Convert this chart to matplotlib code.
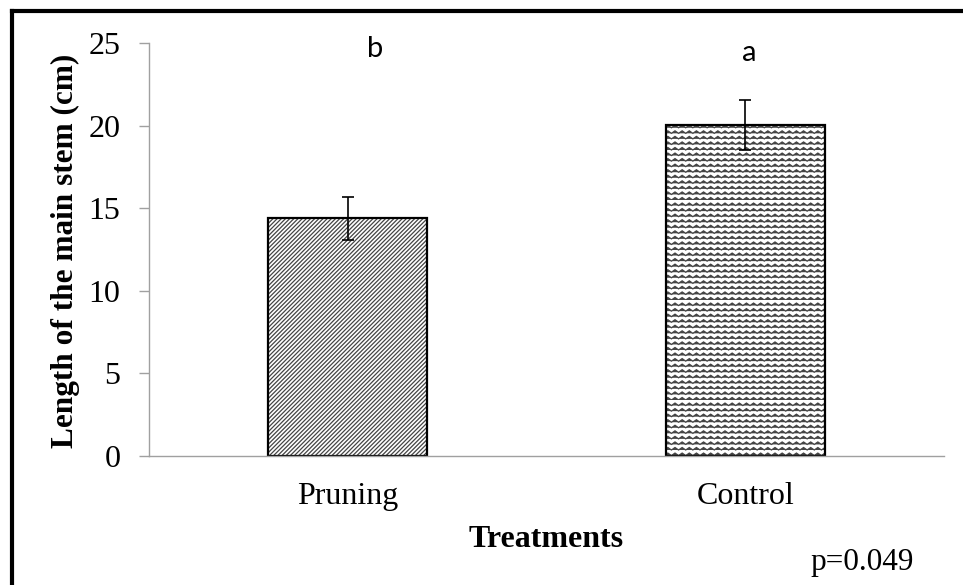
import matplotlib
matplotlib.use("Agg")
import numpy as np
import matplotlib.pyplot as plt
import matplotlib.hatch as mhatch
from matplotlib.path import Path
from matplotlib.lines import Line2D

treatments = ["Pruning", "Control"]
stem_length = [14.4, 20.05]
stem_err = [1.3, 1.5]
letters = ["b", "a"]
p_text = "p=0.049"


class ZigzagHatch(mhatch.HatchPatternBase):
    # wavy rows like the Excel "wave" fill, used with '~'
    def __init__(self, hatch, density):
        self.num_rows = int(hatch.count("~") * density)
        self.teeth = 14
        self.num_vertices = self.num_rows * (2 * self.teeth + 1)

    def set_vertices_and_codes(self, vertices, codes):
        n = 2 * self.teeth + 1
        xs = np.linspace(0, 1, n)
        amp = 0.45 / self.num_rows
        for i in range(self.num_rows):
            y0 = i / self.num_rows
            sl = slice(i * n, (i + 1) * n)
            vertices[sl, 0] = xs
            vertices[sl, 1] = y0 + amp * (np.arange(n) % 2)
            codes[i * n] = Path.MOVETO
            codes[i * n + 1:(i + 1) * n] = Path.LINETO


mhatch._hatch_types.append(ZigzagHatch)

plt.rcParams["font.family"] = ["Liberation Serif", "DejaVu Serif"]
plt.rcParams["hatch.linewidth"] = 0.9

fig = plt.figure(figsize=(9.63, 5.85), dpi=100)
ax = fig.add_axes([149 / 963, 1 - 456 / 585, 795 / 963, 413 / 585])

pos = list(range(len(treatments)))
hatches = ["////////", "~~~"]
for x, h, hatch in zip(pos, stem_length, hatches):
    # hatch layer in grey, then a black outline on top
    ax.bar(x, h, width=0.4, color="white", edgecolor="#444444", hatch=hatch, linewidth=0)
    ax.bar(x, h, width=0.4, fill=False, edgecolor="black", linewidth=1.6)

ax.errorbar(pos, stem_length, yerr=stem_err, fmt="none", ecolor="black",
            elinewidth=1.2, capsize=4.5, capthick=1.2)

for x, lab, dx, yv in zip(pos, letters, [0.07, 0.01], [24.15, 23.9]):
    ax.text(x + dx, yv, lab, ha="center", va="baseline", fontsize=21,
            family=["Lato", "DejaVu Sans"], clip_on=False)

ax.set_xlim(-0.5, 1.5)
ax.set_ylim(0, 25)
ax.set_yticks([0, 5, 10, 15, 20, 25])
ax.set_xticks(pos)
ax.set_xticklabels(treatments)

for side in ["top", "right"]:
    ax.spines[side].set_visible(False)
for side in ["left", "bottom"]:
    ax.spines[side].set_color("#a0a0a0")
    ax.spines[side].set_linewidth(1.0)

ax.tick_params(axis="y", direction="out", length=7.5, width=1.0, color="#a0a0a0",
               labelsize=23, pad=13)
ax.tick_params(axis="x", length=0, labelsize=23, pad=19)

fig.text(65 / 963, 1 - 251 / 585, "Length of the main stem (cm)", rotation=90,
         ha="center", va="center", fontsize=22.5, fontweight="bold")
fig.text(546 / 963, 1 - 547 / 585, "Treatments", ha="center", va="baseline",
         fontsize=23, fontweight="bold")
fig.text(862 / 963, 1 - 570 / 585, p_text, ha="center", va="baseline", fontsize=22.5)

# outer frame (only left and top edges visible)
fig.add_artist(Line2D([11.5 / 963, 11.5 / 963], [0, 1 - 11 / 585],
                      transform=fig.transFigure, color="black", linewidth=3,
                      solid_capstyle="projecting"))
fig.add_artist(Line2D([11.5 / 963, 1], [1 - 11 / 585, 1 - 11 / 585],
                      transform=fig.transFigure, color="black", linewidth=3,
                      solid_capstyle="projecting"))

fig.savefig("out.png", dpi=100)
